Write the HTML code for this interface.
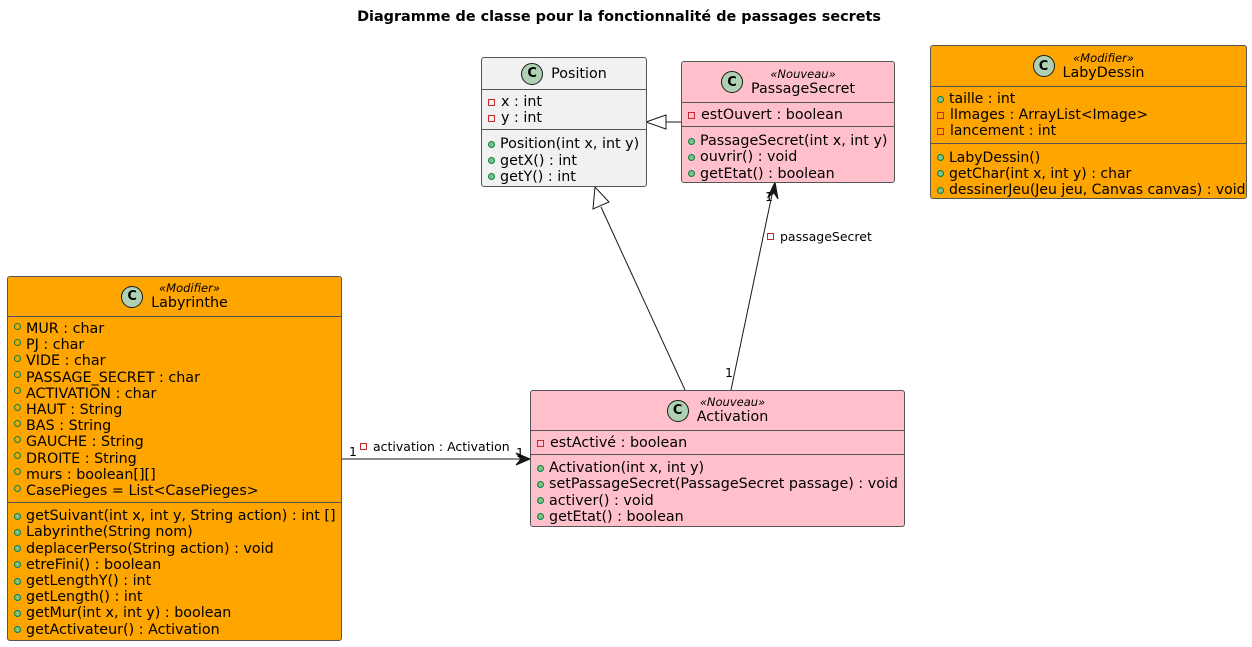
<!DOCTYPE html>
<html><head><meta charset="utf-8"><style>
body{margin:0;width:1252px;height:647px;background:#fff;position:relative;font-family:"DejaVu Sans","Liberation Sans",sans-serif;font-size:14.3px;color:#000;overflow:hidden}
.box{position:absolute;border:1px solid #555;border-radius:3px;box-sizing:border-box}
.hd{position:relative;border-bottom:1px solid #555;display:flex;justify-content:center;align-items:center}
.ci{width:20px;height:20px;border-radius:50%;background:#ADD1B2;border:1px solid #181818;font-weight:bold;font-size:13px;display:flex;align-items:center;justify-content:center;margin-right:8px;flex:none}
.nm{text-align:center;font-size:14.3px;line-height:16px}
.st{font-style:italic;font-size:11.5px;line-height:13px}
.sec{padding:4px 0 3px 6px;border-bottom:1px solid #555}
.sec:last-child{border-bottom:none}
.r{line-height:16.2px;white-space:nowrap;display:flex;align-items:center}
.pv::before{content:"";width:7px;height:7px;border:1px solid #C82930;margin-right:6px;box-sizing:border-box;display:inline-block;flex:none}
.pb::before{content:"";width:7px;height:7px;border-radius:50%;background:#84BE84;border:1px solid #038048;margin-right:5px;box-sizing:border-box;display:inline-block;flex:none}
.po::before{content:"";width:7px;height:7px;border-radius:50%;border:1px solid #038048;margin-right:5px;box-sizing:border-box;display:inline-block;position:relative;top:-3px;flex:none}
.lbl{position:absolute;font-size:12.5px;white-space:nowrap}
</style></head><body>
<div style="position:absolute;top:9px;left:0;width:1238px;text-align:center;font-weight:bold;font-size:14.4px">Diagramme de classe pour la fonctionnalité de passages secrets</div>

<svg width="1252" height="647" style="position:absolute;left:0;top:0">
<g stroke="#181818" fill="none" stroke-width="1">
<line x1="685" y1="390" x2="601" y2="207"/>
<polygon points="595,187 593,209 609,202" fill="#fff"/>
<line x1="682" y1="122" x2="666" y2="122"/>
<polygon points="646,122 666,115 666,129" fill="#fff"/>
<line x1="731" y1="390" x2="774" y2="185"/>
<polygon points="775,182 768,197 774,193 778,199" fill="#181818"/>
<line x1="341" y1="459" x2="528" y2="459"/>
<polygon points="530,459 516,453 521,459 516,465" fill="#181818"/>
</g></svg>

<div class="box" style="left:481px;top:57px;width:166px;height:130px;background:#F1F1F1">
<div class="hd" style="height:31px"><div class="ci">C</div><div class="nm">Position</div></div>
<div class="sec"><div class="r pv">x : int</div><div class="r pv">y : int</div></div>
<div class="sec" style="padding-top:6px"><div class="r pb">Position(int x, int y)</div><div class="r pb">getX() : int</div><div class="r pb">getY() : int</div></div>
</div>

<div class="box" style="left:681px;top:61px;width:214px;height:122px;background:#FFC0CB">
<div class="hd" style="height:40px"><div class="ci">C</div><div class="nm"><div class="st">«Nouveau»</div>PassageSecret</div></div>
<div class="sec"><div class="r pv">estOuvert : boolean</div></div>
<div class="sec" style="padding-top:6px"><div class="r pb">PassageSecret(int x, int y)</div><div class="r pb">ouvrir() : void</div><div class="r pb">getEtat() : boolean</div></div>
</div>

<div class="box" style="left:930px;top:45px;width:317px;height:154px;background:#FFA500;font-size:14px">
<div class="hd" style="height:40px"><div class="ci">C</div><div class="nm"><div class="st">«Modifier»</div>LabyDessin</div></div>
<div class="sec"><div class="r pb">taille : int</div><div class="r pv">lImages : ArrayList&lt;Image&gt;</div><div class="r pv">lancement : int</div></div>
<div class="sec" style="padding-top:6px"><div class="r pb">LabyDessin()</div><div class="r pb">getChar(int x, int y) : char</div><div class="r pb">dessinerJeu(Jeu jeu, Canvas canvas) : void</div></div>
</div>

<div class="box" style="left:7px;top:276px;width:335px;height:365px;background:#FFA500">
<div class="hd" style="height:39px"><div class="ci">C</div><div class="nm"><div class="st">«Modifier»</div>Labyrinthe</div></div>
<div class="sec"><div class="r po">MUR : char</div><div class="r po">PJ : char</div><div class="r po">VIDE : char</div><div class="r po">PASSAGE_SECRET : char</div><div class="r po">ACTIVATION : char</div><div class="r po">HAUT : String</div><div class="r po">BAS : String</div><div class="r po">GAUCHE : String</div><div class="r po">DROITE : String</div><div class="r po">murs : boolean[][]</div><div class="r po">CasePieges = List&lt;CasePieges&gt;</div></div>
<div class="sec" style="padding-top:5px"><div class="r pb">getSuivant(int x, int y, String action) : int []</div><div class="r pb">Labyrinthe(String nom)</div><div class="r pb">deplacerPerso(String action) : void</div><div class="r pb">etreFini() : boolean</div><div class="r pb">getLengthY() : int</div><div class="r pb">getLength() : int</div><div class="r pb">getMur(int x, int y) : boolean</div><div class="r pb">getActivateur() : Activation</div></div>
</div>

<div class="box" style="left:530px;top:390px;width:375px;height:137px;background:#FFC0CB">
<div class="hd" style="height:39px"><div class="ci">C</div><div class="nm"><div class="st">«Nouveau»</div>Activation</div></div>
<div class="sec"><div class="r pv">estActivé : boolean</div></div>
<div class="sec" style="padding-top:5px"><div class="r pb">Activation(int x, int y)</div><div class="r pb">setPassageSecret(PassageSecret passage) : void</div><div class="r pb">activer() : void</div><div class="r pb">getEtat() : boolean</div></div>
</div>

<div class="lbl" style="left:349px;top:444px">1</div>
<div class="lbl pv" style="left:360px;top:439px;display:flex;align-items:center">activation : Activation</div>
<div class="lbl" style="left:516px;top:445px">1</div>
<div class="lbl" style="left:765px;top:189px">1</div>
<div class="lbl pv" style="left:767px;top:229px;display:flex;align-items:center">passageSecret</div>
<div class="lbl" style="left:725px;top:365px">1</div>
</body></html>
